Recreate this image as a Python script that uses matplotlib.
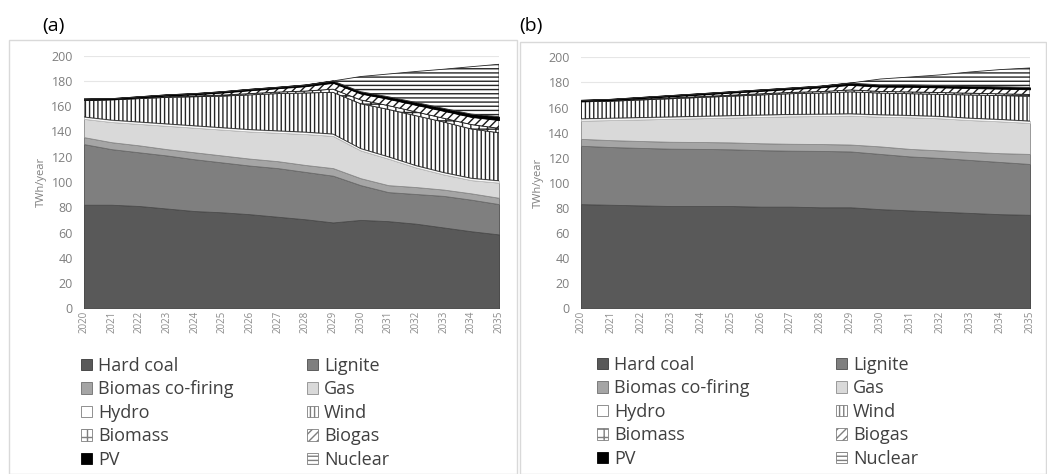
import matplotlib
matplotlib.use('Agg')
import matplotlib.pyplot as plt
from matplotlib.patches import Patch, Rectangle
import numpy as np

plt.rcParams['font.family'] = ['Open Sans', 'DejaVu Sans']
plt.rcParams['hatch.linewidth'] = 1.0

# 연도와 전원 구분
years = list(range(2020, 2036))
sources = ['Hard coal', 'Lignite', 'Biomas co-firing', 'Gas', 'Hydro',
           'Wind', 'Biomass', 'Biogas', 'PV', 'Nuclear']

# 시나리오 (a)
hard_coal_a = [82, 82, 81, 79, 77, 76, 74.5, 72.5, 70.5, 68, 70, 69, 67, 64, 61, 58.5]
lignite_a = [48, 44, 42.5, 42, 41, 39.5, 38.5, 38.5, 37.5, 37, 27.5, 23, 23.5, 25, 25, 24]
cofiring_a = [5.5, 5.5, 5.5, 5, 5.5, 5.5, 5.5, 5.5, 5.5, 6, 5.5, 5.5, 5.5, 5, 5, 5]
gas_a = [14.5, 16, 17, 18.5, 19.5, 20.5, 21.5, 22.5, 24.5, 25.5, 22, 21, 15.5, 12, 10.5, 12]
hydro_a = [1.5] * 16
wind_a = [13, 16, 18.5, 21, 23, 25, 27.5, 29.5, 31, 33, 35.5, 37.5, 39.5, 40, 39, 38]
biomass_a = [0.3, 0.3, 0.4, 0.5, 0.6, 0.8, 1.0, 1.2, 1.5, 2.5, 3.0, 3.0, 3.0, 3.0, 3.5, 3.5]
biogas_a = [0.5, 0.4, 0.7, 1.0, 1.3, 2.0, 2.6, 3.0, 3.8, 5.0, 5.0, 5.3, 5.5, 5.8, 6.0, 6.5]
pv_a = [0.4, 0.3, 0.4, 0.5, 0.6, 0.7, 0.8, 0.8, 1.0, 1.5, 1.5, 1.7, 2.0, 2.0, 2.3, 2.7]
nuclear_a = [0, 0, 0, 0, 0, 0, 0, 0, 0, 0, 12, 18, 24.5, 31, 37.5, 41.5]

# 시나리오 (b)
hard_coal_b = [83, 82.5, 82, 81.5, 81.5, 81.5, 81, 81, 80.5, 80.5, 79, 78, 77, 76, 75, 74.5]
lignite_b = [46.5, 46, 45.8, 45.7, 45.5, 45.2, 45, 44.6, 44.9, 44.5, 44, 43, 42.8, 42.2, 41.6, 40.5]
cofiring_b = [5.5, 5.5, 5.5, 5.5, 5.5, 5.5, 5.5, 5.5, 5.5, 5.5, 6, 6, 6, 6.5, 7, 8]
gas_b = [14.5, 16, 17.2, 18.3, 19, 19.8, 21, 21.9, 22.3, 23, 23.7, 25.2, 25.6, 25.3, 25.4, 24.7]
hydro_b = [1.5] * 16
wind_b = [13.5, 13.5, 14, 14.5, 15, 15.5, 16, 16.5, 16.8, 17.5, 17.3, 17.3, 17.6, 18.5, 19, 19.8]
biomass_b = [0.3, 0.4, 0.5, 0.6, 0.7, 0.8, 0.9, 1.0, 1.2, 1.5, 1.3, 1.4, 1.4, 1.4, 1.4, 1.4]
biogas_b = [0.5, 0.7, 1.0, 1.3, 1.6, 2.0, 2.3, 2.7, 3.3, 4.0, 3.8, 4.1, 4.1, 4.1, 4.1, 4.1]
pv_b = [0.4, 0.4, 0.5, 0.6, 0.7, 0.7, 0.8, 0.8, 1.0, 1.5, 1.4, 1.5, 1.5, 1.5, 1.5, 1.5]
nuclear_b = [0, 0, 0, 0, 0, 0, 0, 0, 0, 0, 4.7, 6.3, 8.5, 11.3, 13.7, 15.5]

colors = ['#595959', '#7f7f7f', '#a5a5a5', '#d9d9d9', 'white',
          'white', 'white', 'white', 'black', 'white']
hatches = [None, None, None, None, None, '||||', '++', '////', None, '----']
edges = ['#3a3a3a', '#4d4d4d', '#6e6e6e', '#8c8c8c', '#bfbfbf',
         '#262626', '#262626', '#1a1a1a', 'black', '#262626']


def draw_panel(ax, data):
    polys = ax.stackplot(years, *data, colors=colors, linewidth=0.6)
    for p, h, e in zip(polys, hatches, edges):
        p.set_edgecolor(e)
        if h:
            p.set_hatch(h)
    ax.set_xlim(2020, 2035)
    ax.set_ylim(0, 200)
    ax.set_yticks(range(0, 201, 20))
    ax.set_xticks(years)
    ax.set_xticklabels([str(y) for y in years], rotation=90, fontsize=7, color='#8c8c8c')
    ax.tick_params(axis='y', labelsize=9, colors='#7f7f7f', length=0, pad=8)
    ax.tick_params(axis='x', length=0, pad=2)
    ax.grid(axis='y', color='#e6e6e6', linewidth=0.8)
    ax.set_axisbelow(True)
    for s in ax.spines.values():
        s.set_visible(False)
    ax.set_ylabel('TWh/year', fontsize=8, color='#7f7f7f', labelpad=3)


def draw_legend(fig, x1, x2, ytop):
    handles = [Patch(facecolor=c, edgecolor=e if c != 'white' else '#7f7f7f',
                     hatch=h, linewidth=0.6)
               for c, h, e in zip(colors, hatches, edges)]
    col1 = [0, 2, 4, 6, 8]
    col2 = [1, 3, 5, 7, 9]
    for idx, xx in ((col1, x1), (col2, x2)):
        fig.legend([handles[i] for i in idx], [sources[i] for i in idx],
                   loc='upper left', bbox_to_anchor=(xx, ytop),
                   frameon=False, fontsize=13, labelcolor='#404040',
                   handlelength=0.6, handleheight=0.6, handletextpad=0.35,
                   labelspacing=0.3, borderpad=0, borderaxespad=0)


fig = plt.figure(figsize=(10.47, 4.74), dpi=100)
W, H = 1047, 474

# 패널 테두리
fig.add_artist(Rectangle((9 / W, 0), (517 - 9) / W, 1 - 40 / H, transform=fig.transFigure,
                         fill=False, edgecolor='#d9d9d9', linewidth=1))
fig.add_artist(Rectangle((520 / W, 0), (1046 - 520) / W, 1 - 42 / H, transform=fig.transFigure,
                         fill=False, edgecolor='#d9d9d9', linewidth=1))

ax_a = fig.add_axes([84 / W, 1 - 308.3 / H, (499 - 84) / W, (308.3 - 55.7) / H])
ax_b = fig.add_axes([581 / W, 1 - 308.3 / H, (1030 - 581) / W, (308.3 - 57.3) / H])

draw_panel(ax_a, [hard_coal_a, lignite_a, cofiring_a, gas_a, hydro_a,
                  wind_a, biomass_a, biogas_a, pv_a, nuclear_a])
draw_panel(ax_b, [hard_coal_b, lignite_b, cofiring_b, gas_b, hydro_b,
                  wind_b, biomass_b, biogas_b, pv_b, nuclear_b])

fig.text(42 / W, 1 - 26 / H, '(a)', fontsize=14, va='center', ha='left')
fig.text(519 / W, 1 - 26 / H, '(b)', fontsize=14, va='center', ha='left')

draw_legend(fig, 81 / W, 307 / W, 1 - 357 / H)
draw_legend(fig, 597 / W, 836 / W, 1 - 356 / H)

fig.savefig('out.png', dpi=100)
